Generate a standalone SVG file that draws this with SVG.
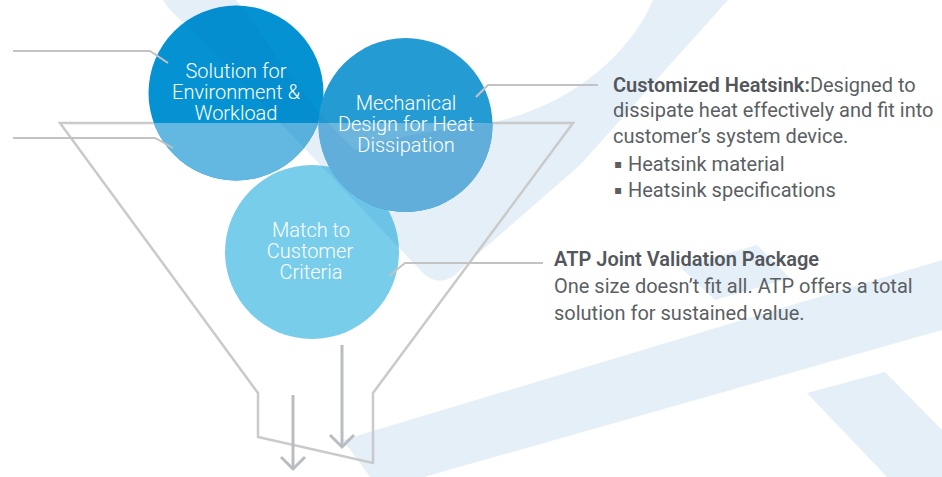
<svg xmlns="http://www.w3.org/2000/svg" xmlns:xlink="http://www.w3.org/1999/xlink" width="942" height="477" viewBox="0 0 942 477">
<style>
  .bg { fill: #e5eff8; }
  .tint { fill: #006ebe; opacity: 0.1; }
  .ctext { font-family: Roboto, "Liberation Sans", sans-serif; font-size: 20px; font-weight: 300; fill: #ffffff; text-anchor: middle; }
  .body { font-family: Roboto, "Liberation Sans", "DejaVu Sans", sans-serif; font-size: 20px; fill: #5b5f64; }
  .bold { font-weight: 600; fill: #53575c; }
  .bullet { font-family: "DejaVu Sans", sans-serif; font-size: 12px; }
  .lead { fill: none; stroke: #c3c3c3; stroke-width: 2; }
  .funnel { fill: none; stroke: #cacaca; stroke-width: 2.5; stroke-linejoin: miter; }
  .arrow { fill: none; stroke: #b9bcc1; stroke-width: 3; }
</style>
<defs>
  <path id="vband" d="M163,0 L236,0 C262,30 300,100 355,150 C400,135 450,128 495,122 C570,105 630,55 653,0 L728,0 L580,165 L462,268 Q443,290 424,274 L192,30 Q168,10 163,0 Z"/>
  <clipPath id="c1"><circle cx="236" cy="93" r="87.5"/></clipPath>
  <clipPath id="c2"><circle cx="405.5" cy="125" r="87"/></clipPath>
  <clipPath id="c3"><circle cx="312" cy="252" r="87"/></clipPath>
  <marker id="ah" markerUnits="userSpaceOnUse" markerWidth="30" markerHeight="30" viewBox="-15 -15 30 30" refX="0" refY="0" orient="auto" overflow="visible">
    <path d="M-12,-12 L0,0 L-12,12" fill="none" stroke="#b9bcc1" stroke-width="3"/>
  </marker>
</defs>

<g id="background">
  <use href="#vband" xlink:href="#vband" class="bg"/>
  <polygon class="bg" points="343,440 942,260 942,330 424,477 370,477"/>
  <polygon class="bg" points="680,267 757,245 790,278 715,300"/>
  <polygon class="bg" points="807,393 885,372 942,430 942,477 887,477"/>
</g>

<g id="funnel">
  <polygon class="funnel" points="60,123 573,123 373,393 373,463 258,437 258,393"/>
</g>

<g id="n3">
  <circle cx="312" cy="252" r="87" fill="#78cdea"/>
  <use href="#vband" xlink:href="#vband" class="tint" clip-path="url(#c3)"/>
  <text class="ctext" x="311" y="237">Match to</text>
  <text class="ctext" x="310" y="258">Customer</text>
  <text class="ctext" x="311" y="279">Criteria</text>
</g>

<g id="n1">
  <circle cx="236" cy="93" r="87.5" fill="#0592d3"/>
  <rect x="140" y="123" width="200" height="70" fill="#62b8e0" clip-path="url(#c1)"/>
  <use href="#vband" xlink:href="#vband" class="tint" clip-path="url(#c1)"/>
  <text class="ctext" x="236" y="78">Solution for</text>
  <text class="ctext" x="236" y="99">Environment &amp;</text>
  <text class="ctext" x="236" y="119.5">Workload</text>
</g>

<g id="n2">
  <circle cx="405.5" cy="125" r="87" fill="#259bd4"/>
  <rect x="310" y="123" width="200" height="100" fill="#6cb6de" clip-path="url(#c2)"/>
  <use href="#vband" xlink:href="#vband" class="tint" clip-path="url(#c2)"/>
  <text class="ctext" x="406" y="110">Mechanical</text>
  <text class="ctext" x="406" y="131">Design for Heat</text>
  <text class="ctext" x="406" y="152">Dissipation</text>
</g>

<g id="heatsink-text">
  <text class="body" x="613" y="91.7"><tspan class="bold">Customized Heatsink:</tspan>Designed to</text>
  <text class="body" x="613" y="117.3">dissipate heat effectively and fit into</text>
  <text class="body" x="613" y="143.3">customer’s system device.</text>
  <text class="body" y="170.7"><tspan class="bullet" x="614" dy="-3">▪</tspan><tspan x="628" dy="3">Heatsink material</tspan></text>
  <text class="body" y="196.7"><tspan class="bullet" x="614" dy="-3">▪</tspan><tspan x="628" dy="3">Heatsink specifications</tspan></text>
</g>

<g id="atp-text">
  <text class="body bold" x="554" y="266">ATP Joint Validation Package</text>
  <text class="body" x="554" y="293.3">One size doesn’t fit all. ATP offers a total</text>
  <text class="body" x="554" y="320">solution for sustained value.</text>
</g>

<g id="connectors">
  <polyline class="lead" points="13,51 150,51 168,63"/>
  <polyline class="lead" points="13,138 155,138 173,148"/>
  <polyline class="lead" points="476,97 488,85 598,85"/>
  <polyline class="lead" points="389,276 405,263 543,263"/>
  <line class="arrow" x1="342" y1="345" x2="342" y2="447" marker-end="url(#ah)"/>
  <line class="arrow" x1="293" y1="395" x2="293" y2="469" marker-end="url(#ah)"/>
</g>
</svg>
